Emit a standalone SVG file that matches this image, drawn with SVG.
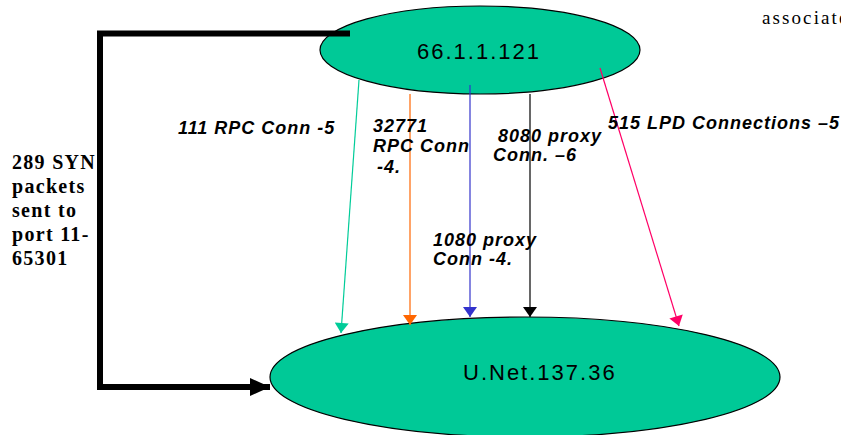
<svg xmlns="http://www.w3.org/2000/svg" width="841" height="435" viewBox="0 0 841 435">
<style>
.node{fill:#00C997;stroke:#000;stroke-width:1.2}
.nlabel{font-family:"Liberation Sans",Arial,sans-serif;font-size:22px;letter-spacing:2px;fill:#000}
.elabel{font-family:"Liberation Sans",Arial,sans-serif;font-size:18px;font-weight:bold;font-style:italic;letter-spacing:1px;fill:#000}
.slabel{font-family:"Liberation Serif","Times New Roman",serif;font-size:20px;font-weight:bold;letter-spacing:1.3px;fill:#000}
.note{font-family:"Liberation Serif","Times New Roman",serif;font-size:19px;letter-spacing:2.1px;fill:#000}
.thin{fill:none;stroke-width:1.2}
</style>
<defs>
<marker id="aTeal" markerUnits="userSpaceOnUse" markerWidth="14" markerHeight="14" viewBox="0 0 10 14" refX="10" refY="7" orient="auto"><path d="M0,0 L10,7 L0,14 Z" fill="#00CC99"/></marker>
<marker id="aOrange" markerUnits="userSpaceOnUse" markerWidth="14" markerHeight="14" viewBox="0 0 10 14" refX="10" refY="7" orient="auto"><path d="M0,0 L10,7 L0,14 Z" fill="#FF6600"/></marker>
<marker id="aBlue" markerUnits="userSpaceOnUse" markerWidth="14" markerHeight="14" viewBox="0 0 10 14" refX="10" refY="7" orient="auto"><path d="M0,0 L10,7 L0,14 Z" fill="#3333CC"/></marker>
<marker id="aBlack" markerUnits="userSpaceOnUse" markerWidth="14" markerHeight="14" viewBox="0 0 10 14" refX="10" refY="7" orient="auto"><path d="M0,0 L10,7 L0,14 Z" fill="#000"/></marker>
<marker id="aPink" markerUnits="userSpaceOnUse" markerWidth="14" markerHeight="14" viewBox="0 0 10 14" refX="10" refY="7" orient="auto"><path d="M0,0 L10,7 L0,14 Z" fill="#FF0066"/></marker>
<marker id="aBig" markerUnits="userSpaceOnUse" markerWidth="20" markerHeight="18" viewBox="0 0 20 18" refX="20" refY="9" orient="auto"><path d="M0,0 L20,9 L0,18 Z" fill="#000"/></marker>
</defs>
<rect width="841" height="435" fill="#fff"/>
<text class="note" x="762" y="24">associate</text>
<g id="syn-label"><text class="slabel"><tspan x="12" y="169">289 SYN</tspan><tspan x="12" y="193">packets</tspan><tspan x="12" y="217">sent to</tspan><tspan x="12" y="241">port 11-</tspan><tspan x="12" y="265">65301</tspan></text></g>
<g id="node-src"><ellipse class="node" cx="480" cy="50" rx="160" ry="44"/><text class="nlabel" x="417" y="59">66.1.1.121</text></g>
<g id="node-dst"><ellipse class="node" cx="525" cy="377" rx="255" ry="60"/><text class="nlabel" x="463" y="380">U.Net.137.36</text></g>
<g id="connectors">
<polyline points="350,33.5 100,33.5 100,387 270,387" fill="none" stroke="#000" stroke-width="6" marker-end="url(#aBig)"/>
<line class="thin" x1="359" y1="80" x2="341" y2="333" stroke="#00CC99" marker-end="url(#aTeal)"/>
<line class="thin" x1="410" y1="94" x2="410" y2="325" stroke="#FF6600" marker-end="url(#aOrange)"/>
<line class="thin" x1="470" y1="85" x2="470" y2="317" stroke="#3333CC" marker-end="url(#aBlue)"/>
<line class="thin" x1="530" y1="94" x2="530" y2="317" stroke="#000" marker-end="url(#aBlack)"/>
<line class="thin" x1="600" y1="68" x2="679" y2="326" stroke="#FF0066" marker-end="url(#aPink)"/>
</g>
<g id="edge-labels">
<text class="elabel" x="178" y="134">111 RPC Conn -5</text>
<text class="elabel"><tspan x="373" y="132">32771</tspan><tspan x="373" y="152">RPC Conn</tspan><tspan x="377" y="173">-4.</tspan></text>
<text class="elabel"><tspan x="498" y="142">8080 proxy</tspan><tspan x="493" y="161">Conn. –6</tspan></text>
<text class="elabel" x="608" y="129">515 LPD Connections –5</text>
<text class="elabel"><tspan x="433" y="246">1080 proxy</tspan><tspan x="433" y="265">Conn -4.</tspan></text>
</g>
</svg>
